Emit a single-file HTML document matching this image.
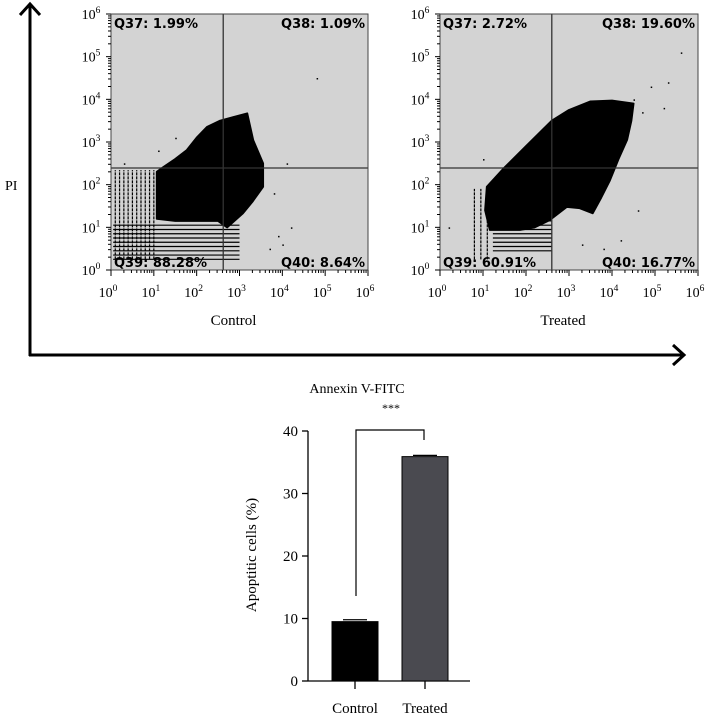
<!DOCTYPE html>
<html><head><meta charset="utf-8"><style>
html,body{margin:0;padding:0;background:#fff;width:705px;height:716px;overflow:hidden}
svg{display:block;font-family:"Liberation Serif",serif}
</style></head><body>
<svg id="fig" width="705" height="716" viewBox="0 0 705 716" xmlns="http://www.w3.org/2000/svg">
<g stroke="#000" stroke-width="3" fill="none">
<line x1="30" y1="4" x2="30" y2="356"/>
<polyline points="20,15 30,4 40,15"/>
<line x1="29" y1="355" x2="684" y2="355"/>
<polyline points="673,345 684,355 673,365"/>
</g>
<text x="5" y="190" font-size="14">PI</text>
<text x="357" y="393" font-size="14" text-anchor="middle">Annexin V-FITC</text>
<g id="flow"></g>
<g id="bars"></g>
</svg>
<script>
// ---- flow cytometry data ----
const panelNames = ['Control','Treated'];
const quadQ37 = ['1.99%','2.72%'];
const quadQ38 = ['1.09%','19.60%'];
const quadQ39 = ['88.28%','60.91%'];
const quadQ40 = ['8.64%','16.77%'];
const gateX = [2.62, 2.6];   // log10 gate positions
const gateY = [2.39, 2.39];
const cloudControl = [[1.07,1.2],[1.07,2.3],[1.22,2.41],[1.5,2.6],[1.77,2.81],[2.0,3.1],[2.24,3.35],[2.55,3.5],[2.85,3.58],[3.18,3.67],[3.32,3.04],[3.55,2.5],[3.55,1.95],[3.3,1.6],[3.08,1.33],[2.71,1.0],[2.5,1.15],[1.5,1.15]];
const cloudTreated = [[1.16,0.94],[1.05,1.4],[1.09,1.95],[1.5,2.4],[2.0,2.9],[2.3,3.2],[2.6,3.5],[3.0,3.75],[3.5,3.95],[4.0,3.97],[4.5,3.9],[4.45,3.5],[4.35,3.05],[4.15,2.6],[3.95,2.1],[3.75,1.7],[3.55,1.33],[3.25,1.45],[2.95,1.48],[2.55,1.17],[2.2,1.0],[1.86,0.94]];
const clouds = [cloudControl, cloudTreated];
const stripeXs = [[0.1,0.2,0.3,0.4,0.5,0.6,0.7,0.8,0.9,1.0],[0.8,0.95,1.1]];
const stripeYTop = [2.34, 1.9];
const stripeYs = [[0.25,0.35,0.45,0.55,0.65,0.75,0.85,0.95,1.05],[0.45,0.55,0.65,0.75,0.85,0.95,1.05,1.15]];
const stripeXRange = [[0.05,3.0],[1.23,2.6]];
const sparseControl = [[3.9,0.8],[4.2,1.0],[3.8,1.8],[4.1,2.5],[4.8,4.5],[1.1,2.8],[1.5,3.1],[0.3,2.5],[3.7,0.5],[4.0,0.6]];
const sparseTreated = [[4.5,4.0],[4.9,4.3],[5.3,4.4],[5.6,5.1],[5.2,3.8],[4.7,3.7],[1.0,2.6],[0.2,1.0],[3.3,0.6],[3.8,0.5],[4.2,0.7],[4.6,1.4]];
const sparse = [sparseControl, sparseTreated];
const tickLabels = ['0','1','2','3','4','5','6'];

const NS='http://www.w3.org/2000/svg';
function mk(tag, attrs, parent){const e=document.createElementNS(NS,tag);for(const k in attrs)e.setAttribute(k,attrs[k]);parent.appendChild(e);return e;}
const flow=document.getElementById('flow');
const boxes=[{x0:111,x1:368},{x0:440,x1:698}];
const yTop=14, yBot=270;
boxes.forEach((b,i)=>{
  const sx=v=>b.x0+(b.x1-b.x0)*v/6;
  const sy=v=>yBot-(yBot-yTop)*v/6;
  const g=mk('g',{},flow);
  
  
  const bg=mk('rect',{x:b.x0,y:yTop,width:b.x1-b.x0,height:yBot-yTop,fill:'#d3d3d3'},g);
  
  
  stripeYs[i].forEach(v=>{
    const l=mk('line',{x1:sx(stripeXRange[i][0]),x2:sx(stripeXRange[i][1]),y1:sy(v),y2:sy(v),stroke:'#000','stroke-width':1.2},g);
    
    
  });
  stripeXs[i].forEach(v=>{
    const l=mk('line',{x1:sx(v),x2:sx(v),y1:sy(0.25),y2:sy(stripeYTop[i]),stroke:'#000','stroke-width':1.2,'stroke-dasharray':'3 1'},g);
    
    
  });
  const poly=mk('polygon',{points:clouds[i].map(p=>sx(p[0])+','+sy(p[1])).join(' '),fill:'#000','stroke':'#000','stroke-width':2,'stroke-linejoin':'round'},g);
  
  
  sparse[i].forEach(p=>{
    const c=mk('rect',{x:sx(p[0]),y:sy(p[1]),width:1.5,height:1.5,fill:'#000'},g);
    
    
  });
  const gv=mk('line',{x1:sx(gateX[i]),x2:sx(gateX[i]),y1:yTop,y2:yBot,stroke:'#333','stroke-width':1.3},g);
  
  
  const gh=mk('line',{x1:b.x0,x2:b.x1,y1:sy(gateY[i]),y2:sy(gateY[i]),stroke:'#333','stroke-width':1.3},g);
  
  
  const fr=mk('rect',{x:b.x0,y:yTop,width:b.x1-b.x0,height:yBot-yTop,fill:'none',stroke:'#444','stroke-width':1},g);
  
  
  const qs=[['Q37: '+quadQ37[i],b.x0+3,yTop+14,'start'],['Q38: '+quadQ38[i],b.x1-3,yTop+14,'end'],['Q39: '+quadQ39[i],b.x0+3,yBot-3,'start'],['Q40: '+quadQ40[i],b.x1-3,yBot-3,'end']];
  qs.forEach((q,k)=>{
    const t=mk('text',{x:q[1],y:q[2],'text-anchor':q[3],'font-size':13,'font-weight':'bold','font-family':'"DejaVu Sans","Liberation Sans",sans-serif'},g);
    t.textContent=q[0];
    
    
  });
  for(let d=0;d<=6;d++){
    mk('line',{x1:sx(d),x2:sx(d),y1:yBot,y2:yBot+6,stroke:'#000'},g);
    mk('line',{x1:b.x0-5,x2:b.x0,y1:sy(d),y2:sy(d),stroke:'#000'},g);
    if(d<6) for(let m=2;m<10;m++){const o=Math.log10(m);
      mk('line',{x1:sx(d+o),x2:sx(d+o),y1:yBot,y2:yBot+3,stroke:'#000'},g);
      mk('line',{x1:b.x0-3,x2:b.x0,y1:sy(d+o),y2:sy(d+o),stroke:'#000'},g);}
    const tx=mk('text',{x:sx(d)-3,y:297,'font-size':14,'text-anchor':'middle'},g);
    tx.innerHTML='10<tspan dy="-6" font-size="9.5">'+tickLabels[d]+'</tspan>';
    
    
    const ty=mk('text',{x:b.x0-20,y:sy(d)+5,'font-size':14,'text-anchor':'middle'},g);
    ty.innerHTML='10<tspan dy="-6" font-size="9.5">'+tickLabels[d]+'</tspan>';
    
    
  }
  const nm=mk('text',{x:(b.x0+b.x1)/2-6,y:325,'font-size':15,'text-anchor':'middle'},g);
  nm.textContent=panelNames[i];
  
  
});

// ---- bar chart data ----
const barCategories = ['Control','Treated'];
const barValues = [9.5, 35.9];
const barErrors = [0.3, 0.2];
const barColors = ['#000','#4a4a50'];
const yTickValues = [0,10,20,30,40];
const bars=document.getElementById('bars');
const ax0=308, ax1=470, by0=681, by40=431;
const yS=v=>by0-(by0-by40)*v/40;
const xC=[355,425], bw=46;
mk('line',{x1:ax0,x2:ax0,y1:yS(40),y2:by0,stroke:'#000','stroke-width':1.3},bars);
mk('line',{x1:ax0,x2:ax1,y1:by0,y2:by0,stroke:'#000','stroke-width':1.3},bars);
yTickValues.forEach(v=>{
  mk('line',{x1:ax0-6,x2:ax0,y1:yS(v),y2:yS(v),stroke:'#000','stroke-width':1.3},bars);
  const t=mk('text',{x:ax0-10,y:yS(v)+5,'font-size':15,'text-anchor':'end'},bars);
  t.textContent=v;
  
  
});
barCategories.forEach((c,i)=>{
  const r=mk('rect',{x:xC[i]-bw/2,y:yS(barValues[i]),width:bw,height:by0-yS(barValues[i]),fill:barColors[i],stroke:'#000','stroke-width':1},bars);
  
  
  mk('line',{x1:xC[i]-12,x2:xC[i]+12,y1:yS(barValues[i]+barErrors[i]),y2:yS(barValues[i]+barErrors[i]),stroke:'#000','stroke-width':1.2},bars);
  mk('line',{x1:xC[i],x2:xC[i],y1:by0,y2:by0+8,stroke:'#000','stroke-width':1.3},bars);
  const t=mk('text',{x:xC[i],y:713,'font-size':15,'text-anchor':'middle'},bars);
  t.textContent=c;
  
  
});
const br=mk('polyline',{points:'356,596 356,430 424,430 424,440',fill:'none',stroke:'#000','stroke-width':1.2},bars);


const st=mk('text',{x:391,y:412,'font-size':12,'text-anchor':'middle'},bars);
st.textContent='***';


const yl=mk('text',{x:0,y:0,'font-size':15,'text-anchor':'middle',transform:'translate(256,555) rotate(-90)'},bars);
yl.textContent='Apoptitic cells (%)';


</script>
</body></html>
